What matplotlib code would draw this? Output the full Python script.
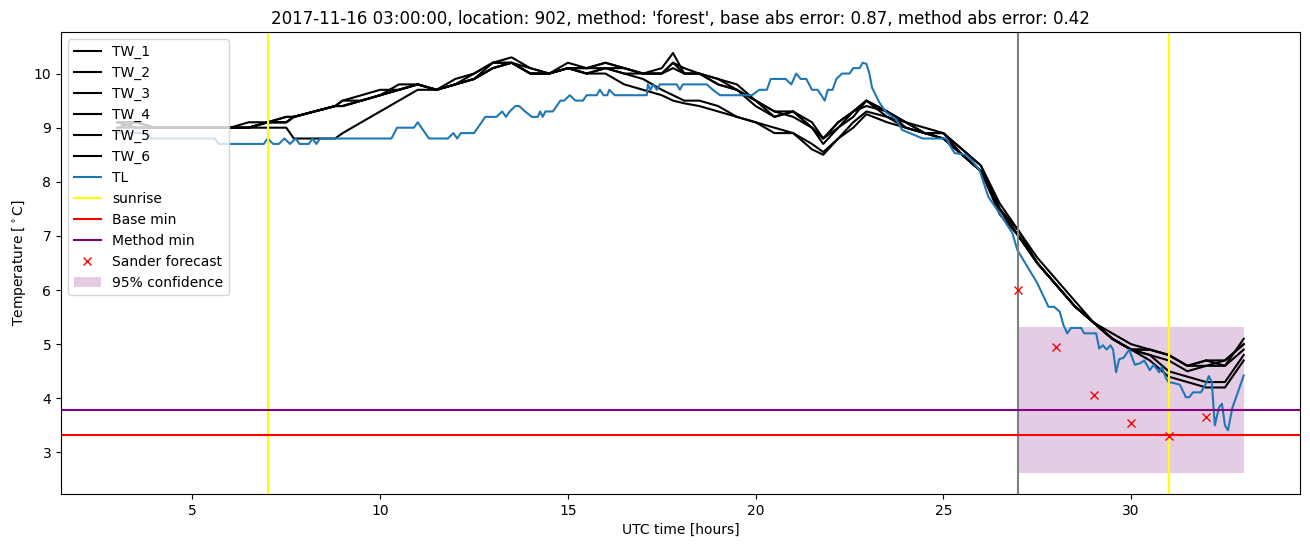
import matplotlib
matplotlib.use("Agg")
import matplotlib.pyplot as plt

# ---------------- data ----------------
tw_time = [3.0, 3.5, 4.0, 5.0, 6.0, 6.5, 7.0, 7.5, 7.7, 8.8,
           9.0, 9.5, 10.0, 10.5, 11.0, 11.5, 12.0, 12.5, 13.0, 13.5,
           14.0, 14.5, 15.0, 15.5, 16.0, 16.5, 17.0, 17.5, 17.8, 18.1,
           18.5, 19.0, 19.5, 20.0, 20.5, 21.0, 21.5, 21.8, 22.2, 22.6,
           22.95, 23.5, 24.0, 24.5, 25.0, 25.5, 26.0, 26.5, 27.0, 27.5,
           28.0, 28.5, 29.0, 29.5, 30.0, 30.5, 31.0, 31.5, 32.0, 32.5,
           33.0]

tw_1 = [9.1, 9.1, 9.0, 9.0, 9.0, 9.0, 9.1, 9.1, 9.2, 9.4,
        9.4, 9.5, 9.6, 9.7, 9.8, 9.7, 9.8, 9.9, 10.2, 10.2,
        10.0, 10.0, 10.1, 10.0, 10.1, 10.1, 10.0, 10.0, 10.1, 10.0,
        10.0, 9.8, 9.7, 9.5, 9.2, 9.3, 9.0, 8.8, 9.1, 9.3,
        9.5, 9.3, 9.1, 8.9, 8.9, 8.5, 8.2, 7.5, 7.0, 6.5,
        6.1, 5.7, 5.4, 5.1, 4.9, 4.9, 4.8, 4.6, 4.7, 4.6,
        5.1]

tw_2 = [9.1, 9.1, 9.0, 9.0, 9.0, 9.1, 9.1, 9.2, 9.2, 9.4,
        9.5, 9.5, 9.6, 9.8, 9.8, 9.7, 9.9, 10.0, 10.2, 10.3,
        10.1, 10.0, 10.2, 10.1, 10.2, 10.1, 10.0, 10.1, 10.38, 10.0,
        10.0, 9.9, 9.7, 9.5, 9.3, 9.3, 9.1, 8.8, 9.1, 9.3,
        9.5, 9.2, 9.1, 9.0, 8.9, 8.6, 8.3, 7.5, 7.1, 6.6,
        6.2, 5.8, 5.4, 5.2, 5.0, 4.9, 4.8, 4.6, 4.6, 4.7,
        5.0]

tw_3 = [9.0, 9.1, 9.0, 9.0, 9.0, 9.0, 9.1, 9.2, 9.2, 9.4,
        9.5, 9.6, 9.7, 9.7, 9.8, 9.7, 9.8, 10.0, 10.2, 10.2,
        10.1, 10.0, 10.1, 10.1, 10.1, 10.0, 10.0, 10.0, 10.2, 10.1,
        10.0, 9.9, 9.8, 9.5, 9.3, 9.2, 9.0, 8.8, 9.0, 9.3,
        9.4, 9.3, 9.0, 8.9, 8.8, 8.5, 8.2, 7.4, 7.0, 6.5,
        6.1, 5.7, 5.4, 5.1, 4.9, 4.8, 4.7, 4.5, 4.6, 4.6,
        4.9]

tw_4 = [9.1, 9.0, 9.0, 9.0, 9.0, 9.0, 9.1, 9.1, 9.2, 9.4,
        9.4, 9.5, 9.6, 9.7, 9.8, 9.7, 9.8, 9.9, 10.1, 10.2,
        10.0, 10.0, 10.1, 10.1, 10.2, 10.1, 10.0, 10.0, 10.2, 10.0,
        10.0, 9.8, 9.7, 9.4, 9.2, 9.3, 9.0, 8.7, 9.0, 9.2,
        9.5, 9.3, 9.1, 8.9, 8.9, 8.6, 8.3, 7.6, 7.1, 6.5,
        6.1, 5.7, 5.4, 5.1, 4.9, 4.9, 4.8, 4.6, 4.7, 4.7,
        5.0]

tw_5 = [9.1, 9.0, 9.0, 9.0, 9.0, 9.0, 9.0, 9.0, 8.8, 8.8,
        8.9, 9.1, 9.3, 9.5, 9.7, 9.7, 9.8, 9.9, 10.1, 10.2,
        10.0, 10.0, 10.1, 10.0, 10.0, 9.8, 9.7, 9.6, 9.5, 9.45,
        9.4, 9.3, 9.2, 9.1, 8.9, 8.9, 8.6, 8.5, 8.8, 9.0,
        9.25, 9.1, 9.0, 8.9, 8.8, 8.5, 8.2, 7.5, 7.0, 6.5,
        6.1, 5.7, 5.4, 5.1, 4.9, 4.7, 4.4, 4.3, 4.2, 4.2,
        4.7]

tw_6 = [9.0, 9.0, 9.0, 9.0, 9.0, 9.0, 9.1, 9.1, 9.2, 9.4,
        9.4, 9.5, 9.6, 9.7, 9.8, 9.7, 9.8, 9.9, 10.1, 10.2,
        10.0, 10.0, 10.1, 10.0, 10.1, 10.0, 9.9, 9.7, 9.6, 9.5,
        9.5, 9.4, 9.2, 9.1, 9.0, 8.9, 8.7, 8.55, 8.8, 9.1,
        9.3, 9.2, 9.0, 8.9, 8.8, 8.5, 8.2, 7.5, 7.0, 6.5,
        6.1, 5.7, 5.4, 5.1, 4.9, 4.8, 4.5, 4.4, 4.3, 4.3,
        4.8]

tl_time = [3.0, 3.8, 3.9, 5.6, 5.7, 6.9, 7.0, 7.15, 7.3, 7.45,
           7.6, 7.75, 7.85, 8.1, 8.2, 8.3, 8.4, 10.3, 10.45, 10.9,
           11.0, 11.1, 11.3, 11.8, 11.95, 12.05, 12.15, 12.5, 12.7, 12.8,
           13.1, 13.25, 13.35, 13.45, 13.6, 13.7, 13.86, 14.04, 14.2, 14.26,
           14.33, 14.4, 14.6, 14.8, 14.9, 15.05, 15.2, 15.4, 15.5, 15.77,
           15.85, 15.95, 16.05, 16.1, 16.25, 17.1, 17.13, 17.2, 17.27, 17.37,
           17.45, 17.9, 17.98, 18.06, 18.7, 18.86, 19.05, 19.9, 20.1, 20.3,
           20.4, 20.8, 20.95, 21.08, 21.2, 21.35, 21.5, 21.65, 21.75, 21.84,
           21.92, 22.05, 22.15, 22.3, 22.5, 22.6, 22.77, 22.85, 22.95, 23.03,
           23.1, 23.3, 23.48, 23.75, 23.9, 24.45, 25.08, 25.15, 25.3, 25.6,
           25.75, 25.96, 26.2, 26.5, 26.84, 26.97, 27.5, 27.8, 27.95, 28.1,
           28.2, 28.3, 28.4, 28.67, 28.75, 29.07, 29.15, 29.25, 29.35, 29.45,
           29.52, 29.6, 29.68, 29.8, 29.95, 30.1, 30.25, 30.35, 30.5, 30.6,
           30.75, 30.82, 30.93, 31.0, 31.15, 31.3, 31.46, 31.55, 31.65, 31.86,
           32.0, 32.07, 32.15, 32.23, 32.34, 32.42, 32.5, 32.58, 32.7, 33.0]

tl_temp = [8.9, 8.9, 8.8, 8.8, 8.7, 8.7, 8.8, 8.7, 8.7, 8.8,
           8.7, 8.8, 8.7, 8.7, 8.8, 8.7, 8.8, 8.8, 9.0, 9.0,
           9.1, 9.0, 8.8, 8.8, 8.9, 8.8, 8.9, 8.9, 9.1, 9.2,
           9.2, 9.3, 9.2, 9.3, 9.4, 9.4, 9.3, 9.2, 9.2, 9.3,
           9.2, 9.3, 9.3, 9.5, 9.5, 9.6, 9.5, 9.5, 9.6, 9.6,
           9.7, 9.6, 9.6, 9.7, 9.6, 9.6, 9.8, 9.7, 9.8, 9.7,
           9.8, 9.8, 9.7, 9.8, 9.8, 9.7, 9.6, 9.6, 9.7, 9.7,
           9.9, 9.9, 9.8, 10.0, 9.9, 9.9, 9.7, 9.7, 9.6, 9.5,
           9.7, 9.7, 9.9, 10.0, 10.0, 10.1, 10.1, 10.2, 10.18, 10.0,
           9.74, 9.46, 9.28, 9.15, 8.96, 8.8, 8.8, 8.7, 8.53, 8.5,
           8.4, 8.22, 7.72, 7.42, 7.05, 6.74, 6.13, 5.69, 5.69, 5.6,
           5.35, 5.2, 5.3, 5.3, 5.2, 5.2, 4.92, 4.98, 4.9, 4.98,
           4.9, 4.48, 4.72, 4.75, 4.9, 4.62, 4.65, 4.7, 4.52, 4.62,
           4.48, 4.58, 4.37, 4.3, 4.28, 4.25, 4.02, 4.02, 4.11, 4.11,
           4.28, 4.41, 4.3, 3.5, 3.83, 3.9, 3.5, 3.41, 3.83, 4.42]

sunrise_times = [7.0, 31.0]
forecast_start = 27.0
base_min = 3.33
method_min = 3.78
sander_time = [27, 28, 29, 30, 31, 32]
sander_temp = [6.0, 4.94, 4.07, 3.55, 3.31, 3.65]
conf_time = [27.0, 33.0]
conf_low = [2.62, 2.62]
conf_high = [5.32, 5.32]

title = ("2017-11-16 03:00:00, location: 902, method: 'forest', "
         "base abs error: 0.87, method abs error: 0.42")

# ---------------- plot ----------------
fig = plt.figure(figsize=(13.1, 5.47), dpi=100)
ax = fig.add_axes([0.0466, 0.0969, 0.9458, 0.8446])

for name, vals in [("TW_1", tw_1), ("TW_2", tw_2), ("TW_3", tw_3),
                   ("TW_4", tw_4), ("TW_5", tw_5), ("TW_6", tw_6)]:
    ax.plot(tw_time, vals, color="black", label=name)

ax.plot(tl_time, tl_temp, color="C0", label="TL")

ax.axvline(sunrise_times[0], color="yellow", label="sunrise")
ax.axvline(sunrise_times[1], color="yellow")
ax.axvline(forecast_start, color="grey")

ax.axhline(base_min, color="red", label="Base min")
ax.axhline(method_min, color="purple", label="Method min")

ax.plot(sander_time, sander_temp, "x", color="red", label="Sander forecast")

ax.fill_between(conf_time, conf_low, conf_high, color="purple", alpha=0.2,
                linewidth=0, label="95% confidence")

ax.set_title(title)
ax.set_xlabel("UTC time [hours]")
ax.set_ylabel(r"Temperature [$^\circ$C]")
ax.legend(loc="upper left")

fig.savefig("out.png", dpi=100)
